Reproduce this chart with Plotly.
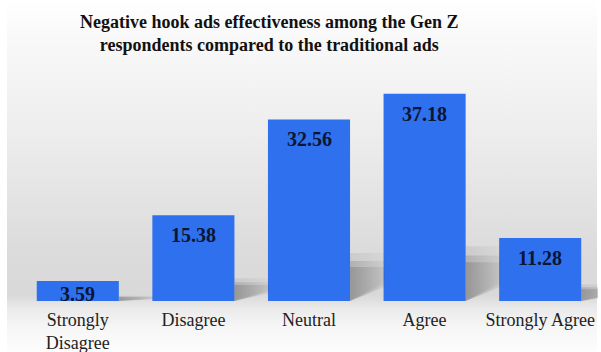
import base64
import plotly.graph_objects as go

# Survey responses (% of Gen Z respondents)
categories = ["Strongly Disagree", "Disagree", "Neutral", "Agree", "Strongly Agree"]
tick_labels = ["Strongly<br>Disagree", "Disagree", "Neutral", "Agree", "Strongly Agree"]
percentages = [3.59, 15.38, 32.56, 37.18, 11.28]

W, H = 601, 352
M_L, M_R, M_T, M_B = 20, 3, 78, 51
Y_MAX = 40
BAR_FRAC = 0.71
plot_w = W - M_L - M_R
plot_h = H - M_T - M_B
px_per_unit = plot_h / Y_MAX
positions = list(range(len(categories)))

title_text = ("Negative hook ads effectiveness among the Gen Z<br>"
              "respondents compared to the traditional ads")
serif = "Liberation Serif"

# Soft grey backdrop: light at the top, darkest near the floor, fading out below
svg = f"""<svg xmlns='http://www.w3.org/2000/svg' width='{W}' height='{H}' viewBox='0 0 {W} {H}' preserveAspectRatio='none'>
<defs><linearGradient id='g' x1='0' y1='0' x2='0' y2='1'>
<stop offset='0' stop-color='#ffffff'/>
<stop offset='0.08' stop-color='#fafafa'/>
<stop offset='0.40' stop-color='#ececec'/>
<stop offset='0.72' stop-color='#dbdbdb'/>
<stop offset='0.84' stop-color='#d9d9d9'/>
<stop offset='0.875' stop-color='#eaeaea'/>
<stop offset='0.93' stop-color='#f6f6f6'/>
<stop offset='1' stop-color='#fdfdfd'/>
</linearGradient></defs>
<rect x='7' y='0' width='{W - 11}' height='{H}' fill='url(#g)'/>
</svg>"""
bg_uri = "data:image/svg+xml;base64," + base64.b64encode(svg.encode()).decode()

fig = go.Figure()

# Soft cast shadows to the right of each bar, layered to blur the edges
half = BAR_FRAC / 2
for i, v in zip(positions, percentages):
    xr = i + half
    hs = 0.22 * v
    low = min(2.9, 0.5 * hs)
    for grow, alpha in [(1.2, 0.10), (1.0, 0.18), (0.85, 0.22)]:
        h = hs * grow
        fig.add_trace(go.Scatter(
            x=[xr, xr, xr + 0.30, xr + 0.30, xr],
            y=[0, h, h, low * grow, 0],
            mode="none", fill="toself",
            fillgradient=dict(
                type="horizontal",
                colorscale=[[0, f"rgba(60,60,60,{alpha})"],
                            [1, f"rgba(60,60,60,{alpha * 0.3})"]],
            ),
            hoverinfo="skip", showlegend=False,
        ))

fig.add_trace(go.Bar(
    x=positions,
    y=percentages,
    width=BAR_FRAC,
    marker=dict(color="#2f70ef", line=dict(width=0)),
    hoverinfo="skip", showlegend=False,
))

# Value labels near the top of each bar
annotations = []
for i, v in zip(positions, percentages):
    bar_px = v * px_per_unit
    annotations.append(dict(
        x=i, y=v, xref="x", yref="y",
        text=f"{v:.2f}", showarrow=False,
        yanchor="top", yshift=-7 if bar_px > 30 else 0,
        font=dict(family=serif, size=20, color="#0b1633", weight="bold"),
    ))

# Chart title
annotations.append(dict(
    text=f"<b>{title_text}</b>", showarrow=False,
    xref="paper", yref="paper",
    x=(269 - M_L) / plot_w, xanchor="center",
    y=1 + (M_T - 10) / plot_h, yanchor="top",
    font=dict(family=serif, size=18, color="#111111"),
))

fig.update_layout(
    width=W, height=H,
    margin=dict(l=M_L, r=M_R, t=M_T, b=M_B, autoexpand=False),
    paper_bgcolor="white",
    plot_bgcolor="rgba(0,0,0,0)",
    showlegend=False,
    xaxis=dict(
        range=[-0.5, 4.5], automargin=False,
        tickmode="array", tickvals=positions, ticktext=tick_labels,
        tickfont=dict(family=serif, size=18, color="#222222"),
        ticklabelstandoff=6,
        showgrid=False, showline=False, zeroline=False, ticks="",
    ),
    yaxis=dict(
        range=[0, Y_MAX], visible=False, showgrid=False, zeroline=False,
        automargin=False,
    ),
    images=[dict(
        source=bg_uri, xref="paper", yref="paper",
        x=-M_L / plot_w, y=1 + M_T / plot_h,
        sizex=W / plot_w, sizey=H / plot_h,
        xanchor="left", yanchor="top", sizing="stretch", layer="below",
    )],
    annotations=annotations,
)

fig.write_html("out.html")
